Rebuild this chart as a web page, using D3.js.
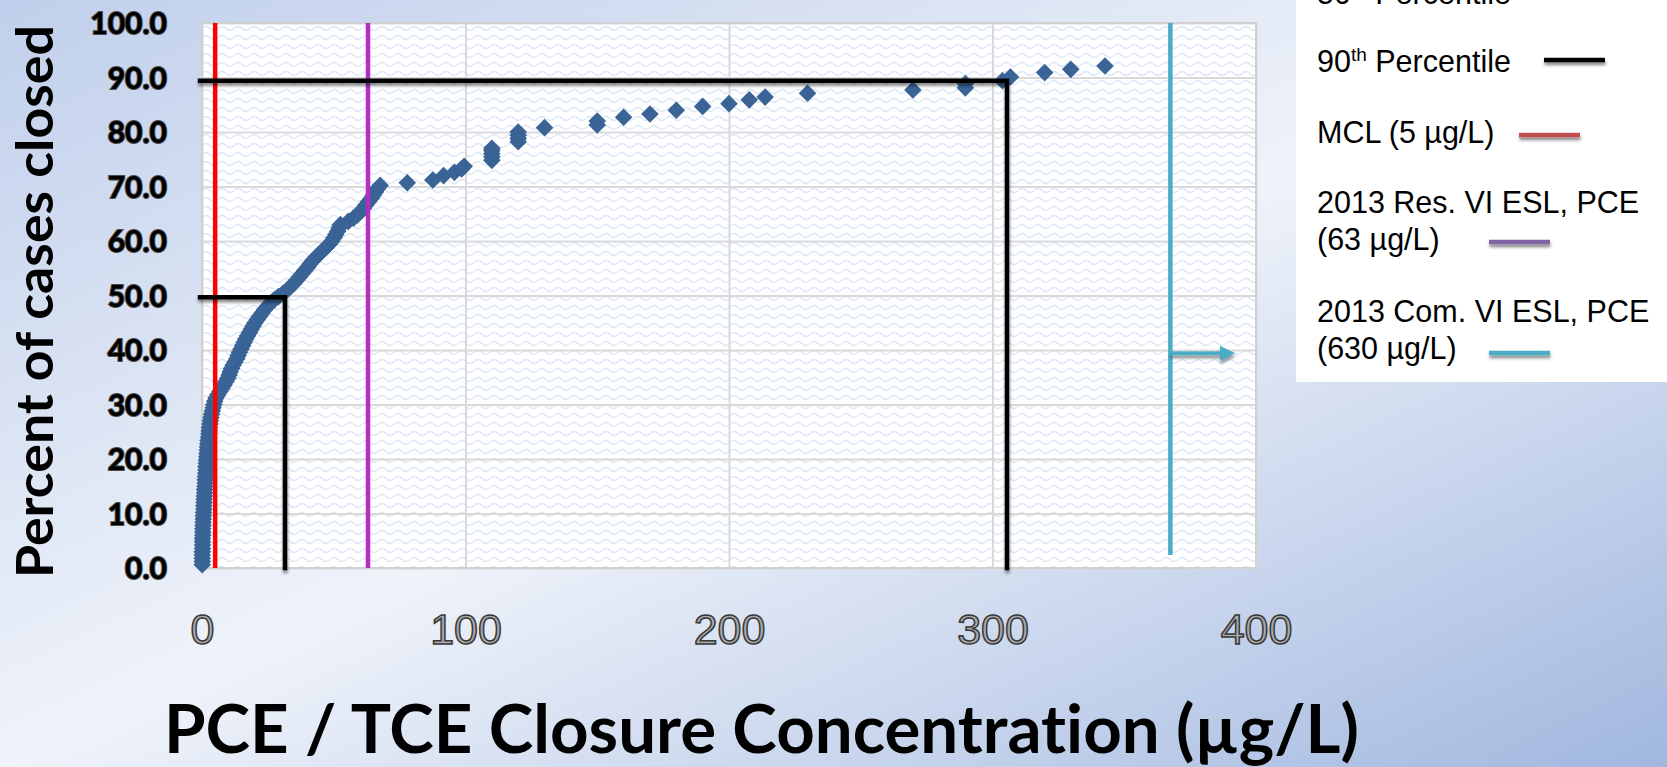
<!DOCTYPE html>
<html>
<head>
<meta charset="utf-8">
<script src="https://cdn.jsdelivr.net/npm/d3@7"></script>
<style>
  html, body { margin: 0; padding: 0; overflow: hidden; }
  svg { display: block; }
  text { font-variant-ligatures: none; }
</style>
</head>
<body>
<div id="chart"></div>
<script>
(function () {
  'use strict';

  // closure concentration (µg/L) of each closed case
  var concentration = [
    0.1, 0.1, 0.1, 0.1, 0.1, 0.2, 0.2, 0.2, 0.2, 0.3,
    0.3, 0.3, 0.4, 0.4, 0.5, 0.5, 0.6, 0.7, 0.7, 0.8,
    0.8, 0.9, 1.0, 1.0, 1.1, 1.2, 1.2, 1.3, 1.4, 1.5,
    1.5, 1.6, 1.7, 1.8, 1.9, 2.0, 2.1, 2.2, 2.3, 2.5,
    2.6, 2.7, 2.8, 3.0, 3.2, 3.4, 3.6, 3.9, 4.2, 4.5,
    4.8, 5.3, 6.0, 6.8, 7.6, 8.4, 9.1, 9.8, 10.3, 10.7,
    11.2, 11.8, 12.5, 13.2, 13.7, 14.2, 14.8, 15.4, 16.0, 16.6,
    17.3, 18.0, 18.7, 19.4, 20.1, 21.0, 21.9, 22.8, 23.7, 24.8,
    26.0, 27.4, 29.0, 30.8, 32.3, 33.6, 34.8, 35.9, 37.0, 38.0,
    39.0, 40.1, 41.0, 42.1, 43.2, 44.5, 45.7, 47.0, 48.3, 49.3,
    50.1, 50.8, 51.5, 52.0, 52.5, 55.5, 57.5, 59.0, 60.2, 61.3,
    62.2, 63.2, 64.2, 65.0, 65.8, 66.6, 67.6, 77.9, 87.6, 91.7,
    95.8, 98.5, 99.5, 110, 110, 110, 110, 110, 120, 120,
    120, 120, 130, 150, 150, 160, 170, 180, 190, 200,
    207.7, 213.7, 229.8, 269.8, 289.7, 289.7, 303.8, 306.8, 319.8, 329.7,
    342.7
  ];

  // cumulative percent of cases closed at or below that concentration
  var percentClosed = [
    0.6, 1.2, 1.8, 2.4, 3.0, 3.6, 4.2, 4.8, 5.4, 6.0,
    6.6, 7.2, 7.8, 8.4, 9.0, 9.6, 10.2, 10.8, 11.4, 12.0,
    12.6, 13.2, 13.8, 14.4, 15.0, 15.6, 16.2, 16.8, 17.4, 18.0,
    18.6, 19.2, 19.8, 20.4, 21.0, 21.6, 22.2, 22.8, 23.4, 24.0,
    24.6, 25.2, 25.8, 26.4, 27.0, 27.6, 28.2, 28.8, 29.4, 30.0,
    30.6, 31.2, 31.8, 32.4, 33.0, 33.6, 34.2, 34.8, 35.4, 36.0,
    36.6, 37.2, 37.8, 38.4, 39.0, 39.6, 40.2, 40.8, 41.4, 42.0,
    42.6, 43.2, 43.8, 44.4, 45.0, 45.6, 46.2, 46.8, 47.4, 48.0,
    48.6, 49.2, 49.8, 50.4, 51.0, 51.6, 52.2, 52.8, 53.4, 54.0,
    54.6, 55.2, 55.8, 56.4, 57.0, 57.6, 58.2, 58.8, 59.4, 60.0,
    60.6, 61.2, 61.8, 62.4, 63.0, 63.6, 64.2, 64.8, 65.4, 66.0,
    66.6, 67.2, 67.8, 68.4, 69.0, 69.6, 70.2, 70.7, 71.2, 72.0,
    72.6, 73.2, 73.7, 74.8, 75.4, 76.0, 76.6, 77.0, 78.2, 78.8,
    79.4, 80.0, 80.8, 81.3, 82.0, 82.7, 83.3, 84.0, 84.7, 85.2,
    85.9, 86.4, 87.1, 87.7, 88.1, 88.9, 89.4, 90.1, 90.9, 91.5,
    92.1
  ];

  var xTicks = [0, 100, 200, 300, 400];
  var yTicks = [0, 10, 20, 30, 40, 50, 60, 70, 80, 90, 100];

  var mclValue = 5;
  var resEslValue = 63;
  // 630 µg/L is off the axis: drawn near the edge with an arrow pointing right
  var comEslMarker = 367.5;
  var comEslArrowTip = 392;
  var comEslArrowAt = 39.4;
  var comEslBottom = 2.4;
  var p50 = [31.5, 49.7];
  var p90 = [305.5, 89.4];

  var legendLabels = [
    ['50th Percentile'],
    ['90th Percentile'],
    ['MCL (5 µg/L)'],
    ['2013 Res. VI ESL, PCE', '(63 µg/L)'],
    ['2013 Com. VI ESL, PCE', '(630 µg/L)']
  ];
  var legendColors = ['#000000', '#000000', '#c0504d', '#8064a2', '#4bacc6'];

  var width = 1667;
  var height = 767;

  var svg = d3.select('#chart').append('svg').attr('width', width).attr('height', height);
  var defs = svg.append('defs');

  var bg = defs.append('linearGradient').attr('id', 'bg')
    .attr('x1', 0).attr('y1', 0).attr('x2', 1).attr('y2', 1);
  bg.append('stop').attr('offset', 0).attr('stop-color', '#c0cfeb');
  bg.append('stop').attr('offset', 0.5).attr('stop-color', '#eff3fa');
  bg.append('stop').attr('offset', 1).attr('stop-color', '#a1b7df');

  var waves = defs.append('pattern').attr('id', 'waves').attr('patternUnits', 'userSpaceOnUse')
    .attr('x', 202).attr('y', 23).attr('width', 16).attr('height', 9);
  waves.append('rect').attr('width', 16).attr('height', 9).attr('fill', '#ffffff');
  waves.append('path').attr('d', 'M0,5.5 Q4,1.5 8,5.5 T16,5.5')
    .attr('fill', 'none').attr('stroke', '#dbe7f7').attr('stroke-width', 1.2);

  defs.append('filter').attr('id', 'shadow').attr('filterUnits', 'userSpaceOnUse')
    .attr('x', 0).attr('y', -40).attr('width', width).attr('height', height + 80)
    .append('feDropShadow').attr('dx', 0.5).attr('dy', 3).attr('stdDeviation', 1.8)
    .attr('flood-color', '#000').attr('flood-opacity', 0.45);

  svg.append('rect').attr('width', width).attr('height', height).attr('fill', 'url(#bg)');

  var x = d3.scaleLinear().domain([0, 400]).range([202, 1256]);
  var y = d3.scaleLinear().domain([0, 100]).range([568, 23]);

  // plot area
  svg.append('rect').attr('x', x(0)).attr('y', y(100))
    .attr('width', x(400) - x(0)).attr('height', y(0) - y(100)).attr('fill', 'url(#waves)');

  svg.append('g').attr('transform', 'translate(' + x(0) + ',0)')
    .call(d3.axisLeft(y).tickValues(yTicks).tickSize(-(x(400) - x(0))).tickFormat(''))
    .call(function (g) { g.select('.domain').remove(); })
    .selectAll('line').attr('stroke', '#d9d9d9').attr('stroke-width', 2);

  svg.append('g').attr('transform', 'translate(0,' + y(0) + ')')
    .call(d3.axisBottom(x).tickValues(xTicks).tickSize(-(y(0) - y(100))).tickFormat(''))
    .call(function (g) { g.select('.domain').remove(); })
    .selectAll('line').attr('stroke', '#d9d9d9').attr('stroke-width', 2);

  svg.append('rect').attr('x', x(0)).attr('y', y(100))
    .attr('width', x(400) - x(0)).attr('height', y(0) - y(100))
    .attr('fill', 'none').attr('stroke', '#d0d0d0').attr('stroke-width', 2);

  // tick labels
  var yAxis = svg.append('g').attr('transform', 'translate(' + x(0) + ',0)')
    .call(d3.axisLeft(y).tickValues(yTicks).tickSize(0).tickPadding(35).tickFormat(d3.format('.1f')));
  yAxis.select('.domain').remove();
  yAxis.selectAll('text')
    .attr('dy', '0.36em')
    .style('font-family', 'Lato, "Open Sans", sans-serif').style('font-weight', 700).style('font-size', '30px')
    .attr('fill', '#000').attr('stroke', '#4a4a4a').attr('stroke-width', 2)
    .attr('paint-order', 'stroke');

  var xAxis = svg.append('g').attr('transform', 'translate(0,' + y(0) + ')')
    .call(d3.axisBottom(x).tickValues(xTicks).tickSize(0).tickFormat(d3.format('d')));
  xAxis.select('.domain').remove();
  xAxis.selectAll('text')
    .attr('y', 76).attr('dy', null)
    .style('font-family', '"Liberation Sans", Arial, sans-serif').style('font-size', '43px')
    .attr('fill', '#a9a9a9').attr('stroke', '#383838').attr('stroke-width', 1.5);

  // axis titles
  svg.append('text')
    .attr('transform', 'translate(53,301.5) rotate(-90)')
    .attr('text-anchor', 'middle')
    .attr('textLength', 553).attr('lengthAdjust', 'spacingAndGlyphs')
    .style('font-family', 'Lato, "Open Sans", sans-serif').style('font-weight', 700).style('font-size', '52px')
    .attr('fill', '#000')
    .text('Percent of cases closed');

  svg.append('text')
    .attr('x', 761.5).attr('y', 753)
    .attr('text-anchor', 'middle')
    .attr('textLength', 1195).attr('lengthAdjust', 'spacingAndGlyphs')
    .style('font-family', 'Lato, "Open Sans", sans-serif').style('font-weight', 700).style('font-size', '66px')
    .attr('fill', '#000')
    .text('PCE / TCE Closure Concentration (µg/L)');

  // data
  var diamond = d3.symbol(d3.symbolSquare, 155);
  svg.append('g').selectAll('path').data(d3.zip(concentration, percentClosed)).join('path')
    .attr('d', diamond)
    .attr('transform', function (d) {
      return 'translate(' + x(d[0]) + ',' + y(d[1]) + ') rotate(45)';
    })
    .attr('fill', '#3a6396');

  // reference lines
  var lines = svg.append('g').attr('fill', 'none');
  lines.append('line')
    .attr('x1', x(mclValue)).attr('x2', x(mclValue)).attr('y1', y(100)).attr('y2', y(0))
    .attr('stroke', '#ff0000').attr('stroke-width', 4.5);
  lines.append('line')
    .attr('x1', x(resEslValue)).attr('x2', x(resEslValue)).attr('y1', y(100)).attr('y2', y(0))
    .attr('stroke', '#b22fc2').attr('stroke-width', 4.5);
  lines.append('line')
    .attr('x1', x(comEslMarker)).attr('x2', x(comEslMarker)).attr('y1', y(100)).attr('y2', y(comEslBottom))
    .attr('stroke', '#4bacc6').attr('stroke-width', 4.5);

  var arrow = lines.append('g').attr('filter', 'url(#shadow)');
  arrow.append('line')
    .attr('x1', x(comEslMarker)).attr('x2', x(comEslArrowTip) - 12)
    .attr('y1', y(comEslArrowAt)).attr('y2', y(comEslArrowAt))
    .attr('stroke', '#4bacc6').attr('stroke-width', 4);
  arrow.append('path')
    .attr('d', d3.line()([
      [x(comEslArrowTip), y(comEslArrowAt)],
      [x(comEslArrowTip) - 15, y(comEslArrowAt) - 7.5],
      [x(comEslArrowTip) - 15, y(comEslArrowAt) + 7.5]
    ]) + 'Z')
    .attr('fill', '#4bacc6');

  [p50, p90].forEach(function (p) {
    lines.append('path')
      .attr('d', d3.line()([[x(0) - 2, y(p[1])], [x(p[0]), y(p[1])], [x(p[0]), y(0)]]))
      .attr('stroke', '#000').attr('stroke-width', 4.5)
      .attr('stroke-linejoin', 'miter').attr('stroke-linecap', 'square')
      .attr('filter', 'url(#shadow)');
  });

  // legend
  var legend = svg.append('g');
  legend.append('rect').attr('x', 1296).attr('y', 0).attr('width', width - 1296).attr('height', 382)
    .attr('fill', '#ffffff');

  var baselines = [3.5, 72, 143, 213, 322];
  var swatchX = [1544, 1544, 1519, 1489, 1489];
  var swatchDy = [-12, -12, -8, 29, 31];

  legendLabels.forEach(function (rows, i) {
    rows.forEach(function (row, j) {
      var t = legend.append('text')
        .attr('x', 1317).attr('y', baselines[i] + j * 37)
        .style('font-family', '"Liberation Sans", Arial, sans-serif').style('font-size', '30.5px')
        .attr('fill', '#000');
      var m = row.match(/^(\d+)(th)(.*)$/);
      if (m) {
        t.append('tspan').text(m[1]);
        t.append('tspan').attr('dy', -11).style('font-size', '19px').text(m[2]);
        t.append('tspan').attr('dy', 11).text(m[3]);
      } else {
        t.text(row);
      }
    });
    legend.append('line')
      .attr('x1', swatchX[i]).attr('x2', swatchX[i] + 61)
      .attr('y1', baselines[i] + swatchDy[i]).attr('y2', baselines[i] + swatchDy[i])
      .attr('stroke', legendColors[i]).attr('stroke-width', 4.5)
      .attr('filter', 'url(#shadow)');
  });
})();
</script>
</body>
</html>
